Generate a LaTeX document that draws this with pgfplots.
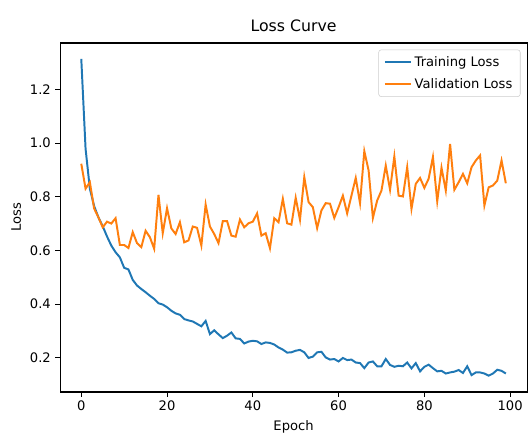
\documentclass[border=0pt]{standalone}
\usepackage{fontspec}
\setmainfont{DejaVu Sans}
\usepackage{pgfplots}
\pgfplotsset{compat=1.18}
\definecolor{mplblue}{HTML}{1F77B4}
\definecolor{mplorange}{HTML}{FF7F0E}
\begin{document}
\begin{tikzpicture}
\begin{axis}[
  name=ax,
  scale only axis,
  width=356.2pt, height=266.2pt,
  xmin=-4.95, xmax=103.95,
  ymin=0.072, ymax=1.373,
  xtick={0,20,40,60,80,100},
  ytick={0.2,0.4,0.6,0.8,1.0,1.2},
  yticklabel style={/pgf/number format/.cd,fixed,fixed zerofill,precision=1},
  /pgf/number format/assume math mode=true,
  tick align=outside,
  major tick length=3.5pt,
  tick style={black, line width=0.8pt},
  axis line style={line width=0.8pt},
  ticklabel style={font=\fontsize{10}{12}\selectfont},
  xtick pos=bottom, ytick pos=left,
  xlabel={Epoch}, ylabel={Loss},
  label style={font=\fontsize{10}{12}\selectfont},
  title={Loss Curve},
  title style={font=\fontsize{12}{14}\selectfont, yshift=-1pt},
  legend style={at={(1,1)}, anchor=north east, xshift=-5pt, yshift=-5pt,
    draw=black!20, rounded corners=2pt, font=\fontsize{10}{12}\selectfont,
    inner xsep=4pt, inner ysep=3pt, row sep=3.5pt},
  legend cell align=left,
  legend image code/.code={\draw[#1, line width=1.5pt] (0pt,0pt) -- (20pt,0pt);},
]
\addplot[mplblue, line width=1.5pt] coordinates {
(0,1.314)(1,0.979)(2,0.830)(3,0.765)(4,0.723)(5,0.690)(6,0.652)(7,0.618)(8,0.593)(9,0.574)
(10,0.535)(11,0.529)(12,0.490)(13,0.469)(14,0.456)(15,0.444)(16,0.431)(17,0.419)(18,0.403)(19,0.398)
(20,0.388)(21,0.375)(22,0.365)(23,0.360)(24,0.344)(25,0.339)(26,0.335)(27,0.326)(28,0.317)(29,0.337)
(30,0.288)(31,0.302)(32,0.287)(33,0.273)(34,0.282)(35,0.294)(36,0.272)(37,0.270)(38,0.253)(39,0.260)
(40,0.263)(41,0.261)(42,0.251)(43,0.257)(44,0.255)(45,0.249)(46,0.238)(47,0.230)(48,0.219)(49,0.220)
(50,0.226)(51,0.229)(52,0.220)(53,0.199)(54,0.204)(55,0.220)(56,0.222)(57,0.201)(58,0.193)(59,0.195)
(60,0.186)(61,0.199)(62,0.191)(63,0.193)(64,0.182)(65,0.180)(66,0.161)(67,0.182)(68,0.186)(69,0.168)
(70,0.168)(71,0.195)(72,0.173)(73,0.166)(74,0.170)(75,0.168)(76,0.182)(77,0.160)(78,0.180)(79,0.149)
(80,0.166)(81,0.174)(82,0.161)(83,0.149)(84,0.151)(85,0.141)(86,0.145)(87,0.148)(88,0.154)(89,0.143)
(90,0.168)(91,0.135)(92,0.145)(93,0.145)(94,0.141)(95,0.133)(96,0.141)(97,0.155)(98,0.151)(99,0.141)
};
\addlegendentry{Training Loss}
\addplot[mplorange, line width=1.5pt] coordinates {
(0,0.923)(1,0.830)(2,0.854)(3,0.756)(4,0.723)(5,0.686)(6,0.707)(7,0.700)(8,0.720)(9,0.620)
(10,0.620)(11,0.609)(12,0.668)(13,0.627)(14,0.612)(15,0.673)(16,0.649)(17,0.606)(18,0.807)(19,0.664)
(20,0.757)(21,0.682)(22,0.661)(23,0.705)(24,0.630)(25,0.637)(26,0.689)(27,0.684)(28,0.618)(29,0.771)
(30,0.689)(31,0.661)(32,0.627)(33,0.709)(34,0.709)(35,0.655)(36,0.651)(37,0.715)(38,0.686)(39,0.701)
(40,0.707)(41,0.738)(42,0.655)(43,0.664)(44,0.608)(45,0.720)(46,0.705)(47,0.792)(48,0.701)(49,0.696)
(50,0.796)(51,0.714)(52,0.873)(53,0.780)(54,0.761)(55,0.683)(56,0.749)(57,0.776)(58,0.774)(59,0.721)
(60,0.761)(61,0.804)(62,0.738)(63,0.804)(64,0.870)(65,0.776)(66,0.970)(67,0.898)(68,0.721)(69,0.786)
(70,0.823)(71,0.916)(72,0.826)(73,0.950)(74,0.804)(75,0.801)(76,0.910)(77,0.755)(78,0.848)(79,0.870)
(80,0.833)(81,0.867)(82,0.948)(83,0.783)(84,0.908)(85,0.823)(86,0.997)(87,0.826)(88,0.854)(89,0.885)
(90,0.850)(91,0.910)(92,0.935)(93,0.954)(94,0.767)(95,0.835)(96,0.842)(97,0.860)(98,0.935)(99,0.850)
};
\addlegendentry{Validation Loss}
\end{axis}
\pgfresetboundingbox
\path[use as bounding box] ([xshift=-45.8pt,yshift=-33.6pt]ax.south west) rectangle ([xshift=3pt,yshift=32.8pt]ax.north east);
\end{tikzpicture}
\end{document}
